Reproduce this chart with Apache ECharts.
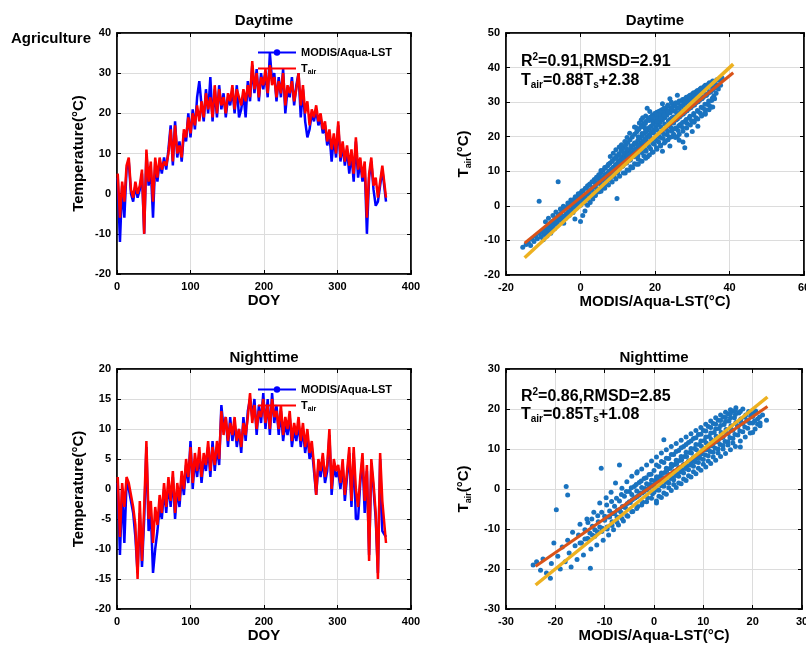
<!DOCTYPE html>
<html><head><meta charset="utf-8">
<script src="https://cdn.jsdelivr.net/npm/echarts@6/dist/echarts.min.js"></script>
<style>html,body{margin:0;padding:0;background:#fff}#c{width:806px;height:649px}</style>
</head><body><div id="c"></div>
<script>
// ---------- DATA ----------
const doy = [1,4,7,10,13,16,19,22,25,28,31,34,37,40,43,46,49,52,55,58,61,64,67,70,73,76,79,82,85,88,91,94,97,100,103,106,109,112,115,118,121,124,127,130,133,136,139,142,145,148,151,154,157,160,163,166,169,172,175,178,181,184,187,190,193,196,199,202,205,208,211,214,217,220,223,226,229,232,235,238,241,244,247,250,253,256,259,262,265,268,271,274,277,280,283,286,289,292,295,298,301,304,307,310,313,316,319,322,325,328,331,334,337,340,343,346,349,352,355,358,361,366];

const dayTair = [5,-6,3,-2,7,9,1,-1,3,0, 2,6,-10,11,3,8,-2,9,4,9, 6,8,7,10,16,8,17,10,12,9, 16,14,19,15,20,17,22,18,23,19, 25,21,24,19,27,20,26,22,24,20, 25,23,27,21,26,24,22,26,23,27, 24,33,26,30,24,29,27,31,25,32, 27,29,24,28,25,30,22,27,25,28, 23,26,30,22,27,20,23,17,21,19, 22,18,20,16,18,13,16,11,15,10, 18,9,13,8,12,7,11,5,14,6, 9,4,8,-6,5,9,2,4,-1,3, 7,-1];
const dayLST = [4,-12,2,-6,6,8,0,-2,2,-1, 1,5,-10,10,2,6,-6,8,3,8, 5,9,6,11,17,7,18,9,13,8, 15,13,20,14,21,16,24,28,22,18, 26,20,29,18,26,19,27,21,25,19, 24,22,26,20,27,19,21,25,19,28, 23,32,25,31,23,30,26,30,24,35, 28,30,23,29,24,31,20,26,24,29, 22,27,30,19,26,18,14,16,20,18, 21,17,19,15,17,12,15,8,14,9, 17,8,12,7,11,5,10,3,13,4, 8,3,7,-10,4,8,1,-3,-2,2, 6,-2];
const nightTair = [2,-8,1,-3,2,1,-1,-3,-6,-15, -2,-12,-3,8,-5,-2,-9,-3,-6,-1, -4,1,-3,2,-2,3,-4,1,-2,3, 0,5,2,7,1,6,3,7,2,6, 4,8,3,7,4,8,5,13,9,12, 8,11,9,12,8,10,7,11,9,12, 16,11,14,10,13,12,15,11,14,10, 15,12,13,10,14,9,12,10,13,8, 11,9,12,8,11,7,10,6,8,4, -1,5,3,6,2,4,10,0,5,3, 4,1,5,-1,3,7,-2,7,0,-3, 2,6,-2,4,-12,5,1,-4,-15,6, -2,-9];
const nightLST = [1,-11,0,-9,1,0,-2,-4,-8,-14, -4,-13,-5,7,-7,-4,-14,-10,-7,-3, -5,0,-4,1,-3,2,-5,0,-3,2, -1,4,1,8,0,5,2,6,1,5, 3,7,2,8,3,7,4,14,10,12, 7,12,8,11,7,10,6,12,8,13, 15,12,15,9,14,11,16,10,15,9, 16,11,14,9,13,8,11,9,12,7, 10,8,11,7,10,6,9,5,7,3, -1,4,2,5,1,3,9,-1,4,2, 3,0,4,-2,2,6,-3,6,-5,-5, 1,5,-4,3,-11,4,0,-5,-14,5, -7,-8];

// scatter: [MODIS/Aqua-LST, Tair]
const dayScatter = [[-15.5,-12],[-14.6,-11.2],[-14,-10.5],[-13.4,-11.5],[-13,-9.6],[-12.5,-10.3],[-12,-8.8],[-11.6,-9.5],[-11.1,1.3],[-11,-8],[-10.6,-9],[-10.2,-7.2],[-9.8,-8.3],[-9.4,-6.5],[-9,-7.6],[-8.7,-5.8],[-8.3,-7],[-8,-4.9],[-7.6,-6.2],[-7.3,-4.3],[-7,-5.4],[-6.6,-3.6],[-6.3,-4.8],[-6,7],[-6,-2.8],[-5.7,-4.1],[-5.4,-2.2],[-5.1,-3.5],[-4.8,-1.4],[-4.5,-5],[-4.4,-2.9],[-4.1,-0.8],[-3.8,-2.3],[-3.5,-0.1],[-3.2,-1.7],[-2.9,0.6],[-2.6,-1.1],[-2.3,1.2],[-2,-0.4],[-1.7,1.9],[-1.5,-3.8],[-1.4,0.3],[-1.1,2.5],[-0.8,0.9],[-0.5,3.2],[-0.2,1.5],[0,-4.5],[0.1,3.8],[0.4,2.1],[0.6,-2.8],[0.7,4.4],[1,2.8],[1.2,-1.5],[1.3,5.1],[1.6,3.4],[1.9,0.2],[1.9,5.8],[2.2,4],[2.5,6.3],[2.6,1],[2.8,4.7],[3.1,7],[3.3,2],[3.4,5.3],[3.7,7.6],[3.9,3.1],[4,5.9],[4.3,8.3],[4.5,4],[4.6,6.6],[4.9,9],[5.1,4.8],[5.2,7.2],[5.5,9.6],[5.8,5.5],[5.8,7.9],[6.1,10.3],[6.4,6.2],[6.4,8.5],[6.7,11],[7,7],[7,9.2],[7.3,11.6],[7.6,7.8],[7.6,9.9],[7.9,12.3],[8.2,8.5],[8.2,10.5],[8.5,13],[8.8,9.3],[8.8,11.2],[9.1,13.7],[9.4,10],[9.4,11.9],[9.7,14.4],[9.8,2.1],[10,10.8],[10,12.6],[10.3,15.1],[10.6,11.5],[10.6,13.3],[10.9,16],[11.2,12.2],[11.2,14],[11.5,16.8],[11.8,12.9],[11.8,14.7],[12.1,17.5],[12.4,13.6],[12.4,15.4],[12.7,18.3],[13,14.3],[13,16.1],[13.3,19.1],[13.6,15],[13.6,16.8],[13.9,19.9],[14.2,15.7],[14.2,17.5],[14.5,20.7],[14.8,16.4],[14.8,18.2],[15,22.6],[15.1,21.4],[15.4,17.1],[15.4,18.9],[15.7,22.2],[16,17.8],[16,19.6],[16.3,23],[16.3,24.8],[16.6,18.5],[16.6,20.3],[16.9,23.7],[17.2,19.2],[17.2,21],[17.5,24.4],[17.5,26],[17.8,19.9],[17.8,21.7],[17.9,28.2],[18.1,25],[18.4,20.6],[18.4,22.4],[18.7,25.6],[19,21.3],[19,23.1],[19.3,26.2],[19.6,22],[19.6,23.8],[19.9,26.7],[20.2,22.7],[20.2,24.5],[20.5,27.1],[20.8,23.4],[20.8,25.2],[21.1,27.4],[21.4,24.1],[21.4,25.9],[21.7,27.7],[22,24.8],[22,26.5],[22.3,28],[22.6,25.5],[22.6,27],[22.9,28.3],[23.2,26.2],[23.5,27.5],[23.5,28.8],[24,17.3],[24,25],[24.1,26.9],[24.4,28.2],[24.7,29.3],[25,25.7],[25,27.5],[25.3,28.9],[25.6,29.8],[25.9,26.4],[26,28.2],[26.2,29.6],[26.5,30.3],[26.8,27.1],[27,28.9],[27.1,30.3],[27.4,30.8],[27.7,27.8],[28,16.8],[28,29.6],[28.1,31],[28.4,31.4],[28.7,28.5],[29,30.3],[29.1,31.7],[29.4,32],[29.7,29.2],[30,31],[30.1,32.4],[30.4,32.7],[30.7,29.9],[31,31.7],[31.1,33.1],[31.4,33.4],[31.7,30.6],[32,32.4],[32.1,33.8],[32.4,34.1],[32.7,31.3],[33,33.1],[33.2,34.5],[33.5,34.9],[33.8,32],[34,33.8],[34.3,35.2],[34.6,35.6],[35,33],[35.1,34.5],[35.5,36],[35.9,34],[36.2,35.2],[36.6,36.5],[37,35],[37.4,36.4],[38,37],
[12,9.5],[13,10.3],[14,11],[15,12],[15.5,13.5],[16.2,13],[17,14.5],[17.6,15.8],[18,14.2],[18.8,16.5],[19.3,15.5],[19.8,17.8],[20.4,16.8],[21,18.5],[21.5,17.5],[22.2,19.5],[22.8,18.6],[23.3,20.6],[23.9,19.8],[24.5,21.6],[25,20.7],[25.6,22.5],[26.2,21.8],[26.8,23.5],[27.4,22.7],[28,24.4],[28.6,23.8],[29.2,25.4],[29.8,24.6],[30.4,26.3],[31,25.5],[31.6,27.3],[32.2,26.8],[32.8,28.3],[33.4,27.9],[34,29.4],[34.6,29],[35.2,30.5],[35.8,31.8],[36.4,32.6],[37,33.8],[37.6,34.9],[20,19.5],[21,20.2],[22,21.3],[23,22.4],[24,23.2],[25,24],[26,25.1],[27,26.2],[28,27.1],[29,28],[30,28.9],[31,29.8],[32,30.6],[33,31.5],[34,32.3],[18,18.3],[19,19.2],[17,17.4],[16,16.3],[15,15.5],[14,14.6],[13,13.2],[12,12.4],[11,11.3],[10,9.5],[9,8.6],[8,7.4],[7,6.3],[6,5.2],[5,4.1],[4,3],[3,2.8],[2,1.7],[1,0.8],[0,0.2],[-1,-0.6],[-2,-1.9],[-3,-2.7],[-4,-3.6],[-5,-4.4],[-6,-5.5],[-7,-6.6],[-8,-7.9],[-9,-8.7],[-10,-9.8],
[14.5,22.8],[15.8,24],[16.7,25.5],[17.3,22.5],[18.6,27.3],[19.4,24.6],[20.3,25.8],[21.2,26.6],[22.5,25.9],[23.8,27],[13.2,21],[12.5,19.8],[11.9,18.6],[11,17.7],[10.4,17],[9.5,16.2],[8.8,15.2],[8,14.3],[30.5,24.5],[33.5,26.5],[35,28.5],[36,31],[26,20],[22,15.8],
[-9.5,-7.5],[-9.4,-4.6],[-8.5,-6.6],[-8.6,-3.6],[-7.5,-5.7],[-7.4,-2.8],[-6.5,-4.8],[-6.6,-1.8],[-5.5,-3.9],[-5.4,-0.9],[-4.5,-3.1],[-4.6,-0.1],[-3.5,-2.2],[-3.4,0.8],[-2.5,-1.3],[-2.6,1.7],[-1.5,-0.4],[-1.4,2.6],[-0.5,0.5],[-0.6,3.5],[0.5,1.3],[0.4,4.3],[1.5,2.2],[1.6,5.2],[2.5,3.1],[2.4,6.1],[3.5,4],[3.6,7],[4.5,4.9],[4.4,7.9],[5.5,4.2],[5.4,6.2],[5.6,8.2],[5.5,10.2],[6.5,5.1],[6.4,7.1],[6.6,9.1],[6.5,11.1],[7.5,6],[7.4,8],[7.6,10],[7.5,12],[8.5,6.9],[8.4,8.9],[8.6,10.9],[8.5,12.9],[9.5,7.8],[9.4,9.8],[9.6,11.8],[9.5,13.8],[10.5,8.6],[10.4,10.6],[10.6,12.6],[10.5,14.6],[11.5,9.5],[11.4,11.5],[11.6,13.5],[11.5,15.5],[12.5,10.4],[12.4,12.4],[12.6,14.4],[12.5,16.4],[13.5,11.3],[13.4,13.3],[13.6,15.3],[13.5,17.3],[14.5,12.2],[14.4,14.2],[14.6,16.2],[14.5,18.2],[15.5,12],[15.4,14.5],[15.6,17.5],[15.5,20],[15.4,22],[16.5,12.9],[16.4,15.4],[16.6,18.4],[16.5,20.9],[16.4,22.9],[17.5,13.8],[17.4,16.3],[17.6,19.3],[17.5,21.8],[17.4,23.8],[18.5,14.7],[18.4,17.2],[18.6,20.2],[18.5,22.7],[18.4,24.7],[19.5,15.6],[19.4,18.1],[19.6,21.1],[19.5,23.6],[19.4,25.6],[20.5,16.4],[20.4,18.9],[20.6,21.9],[20.5,24.4],[20.4,26.4],[21.5,17.3],[21.4,19.8],[21.6,22.8],[21.5,25.3],[21.4,27.3],[22.5,18.2],[22.4,20.7],[22.6,23.7],[22.5,26.2],[22.4,28.2],[23.5,19.1],[23.4,21.6],[23.6,24.6],[23.5,27.1],[23.4,29.1],[24.5,20],[24.4,22.5],[24.6,25.5],[24.5,28],[24.4,30],[25.5,19.8],[25.4,22.3],[25.6,24.8],[25.5,27.3],[26.5,20.7],[26.4,23.2],[26.6,25.7],[26.5,28.2],[27.5,21.6],[27.4,24.1],[27.6,26.6],[27.5,29.1],[28.5,22.5],[28.4,25],[28.6,27.5],[28.5,30],[29.5,23.4],[29.4,25.9],[29.6,28.4],[29.5,30.9],[30.5,24.2],[30.4,26.7],[30.6,29.2],[30.5,31.7],[31.5,25.1],[31.4,27.6],[31.6,30.1],[31.5,32.6],[32.5,26],[32.4,28.5],[32.6,31],[32.5,33.5],[33.5,26.9],[33.4,29.4],[33.6,31.9],[33.5,34.4],[34.5,27.8],[34.4,30.3],[34.6,32.8],[34.5,35.3],[35.5,28.6],[35.4,31.1],[35.6,33.6],[35.5,36.1],
[26.5,19],[28.5,20.5],[30,21.5],[31.5,23],[27.5,18.5],[24,31],[26,32],[22,29.5]];

const nightScatter = [[-24.5,-19],[-23.8,-18.2],[-23,-20.3],[-22.5,-17.5],[-21.8,-21],[-21,-22.3],[-20.8,-18.6],[-20.3,-13.5],[-19.8,-5.2],[-19.5,-16.8],[-19,-20],[-18.6,-14.5],[-18,-18.2],[-17.8,0.6],[-17.5,-12.8],[-17.2,-16],[-16.8,-19.5],[-16.5,-10.8],[-16,-14.2],[-15.6,-17.6],[-15.3,-11.5],[-15,-8.8],[-14.7,-13.5],[-14.3,-16.5],[-14,-10.2],[-13.6,-7.5],[-13.3,-12.5],[-12.9,-19.8],[-12.8,-15],[-12.5,-9.3],[-12.2,-5.8],[-12,-11.8],[-11.6,-14],[-11.3,-8.2],[-11,-3.5],[-10.7,5.2],[-10.6,-10.6],[-10.3,-12.8],[-10,-6.8],[-9.7,-2.2],[-9.5,-9.5],[-9.2,-11.5],[-9,-5.5],[-8.7,-0.8],[-8.5,-8.2],[-8.2,-10.2],[-8,-4.3],[-7.8,1.5],[-7.5,-7],[-7.2,-9],[-7,6],[-7,-3],[-6.7,-5.8],[-6.5,0.2],[-6.2,-8],[-6,-1.8],[-5.8,-4.6],[-5.5,1.8],[-5.3,-6.8],[-5,-0.6],[-4.8,-3.4],[-4.5,3.2],[-4.3,-5.6],[-4,0.6],[-3.8,-2.2],[-3.5,4],[-3.3,-4.4],[-3,1.6],[-2.8,-1],[-2.5,5],[-2.3,-3.3],[-2,2.6],[-1.8,0.1],[-1.5,6],[-1.3,-2.2],[-1,3.6],[-0.8,1.1],[-0.5,7],[-0.3,-1.2],[0,4.6],[0.2,2.1],[0.5,-3.5],[0.5,8],[0.7,-0.2],[1,5.6],[1.2,3.1],[1.5,9],[1.7,0.8],[2,12.3],[2,6.6],[2.2,4.1],[2.5,9.8],[2.7,1.8],[3,7.6],[3.2,5.1],[3.5,10.6],[3.7,2.8],[4,8.6],[4.2,6.1],[4.5,11.4],[4.7,3.8],[5,9.6],[5.2,7.1],[5.5,12.2],[5.7,4.8],[6,10.6],[6.2,8.1],[6.5,13],[6.7,5.8],[7,11.6],[7.2,9.1],[7.5,13.8],[7.7,6.8],[8,12.6],[8.2,10.1],[8.5,14.6],[8.7,7.8],[9,13.6],[9.2,11.1],[9.5,15.4],[9.7,8.8],[10,14.6],[10.2,12.1],[10.5,16.2],[10.7,9.8],[11,15.6],[11.2,13.1],[11.5,17],[11.7,10.8],[12,16.4],[12.2,14.1],[12.5,17.8],[12.7,11.8],[13,17.2],[13.2,15.1],[13.5,18.5],[13.7,12.8],[14,18],[14.2,16.1],[14.5,19.2],[14.7,13.8],[15,18.8],[15.2,17],[15.5,19.8],[15.7,14.8],[16,19.5],[16.3,17.8],[16.6,20.3],[16.9,15.8],[17.2,19],[17.5,10.5],[17.6,16.8],[18,20],[18.4,18],[18.8,17],[19.2,19.4],[19.6,18.2],[20,16.5],[20.4,19],[21,17.5],[21.5,15.8],[22,18.5],[22.8,17.2],
[-5,-3.2],[-4,-2.3],[-3,-1.5],[-2,-0.6],[-1,0.3],[0,1.1],[0,-0.8],[1,2],[1,-0.3],[2,2.8],[2,0.7],[3,3.6],[3,1.5],[4,4.4],[4,2.3],[5,5.3],[5,3.2],[6,6.1],[6,4],[7,7],[7,4.8],[8,7.8],[8,5.7],[9,8.7],[9,6.6],[10,9.6],[10,7.4],[11,10.4],[11,8.3],[12,11.3],[12,9.2],[13,12.1],[13,10],[14,13],[14,10.9],[15,13.8],[15,11.8],[16,14.7],[16,12.6],[17,15.5],[17,13.5],[18,16.4],[18,14.3],[19,17.2],[19,15.2],[20,18.1],[20,14.1],[21,16.2],[-6,-4.5],[-7,-5.2],[-8,-6.1],[-9,-7],[-10,-7.8],[-11,-9.5],[-12,-10.2],[-13,-11],[-14,-12.5],[-15,-13.5],[0.5,3],[1.5,4],[2.5,5.2],[3.5,6.2],[4.5,7.2],[5.5,8.1],[6.5,9.2],[7.5,10.1],[8.5,11.1],[9.5,12],[10.5,13],[11.5,14],[12.5,15],[13.5,15.9],[14.5,16.9],[15.5,17.8],[16.5,18.6],[17.5,19.4],[-0.5,2.2],[-1.5,1.3],[-2.5,0.4],[-3.5,-0.5],[-4.5,-1.4],[5,1.5],[6,2.5],[7,3.3],[8,4.3],[9,5.2],[10,6.2],[11,7],[12,8],[13,9],[14,10],[15,11],[16,11.5],[3,0.3],[4,1.1],[2,-1],[1,-1.8],[-17.5,-1.5],[-3.4,4.3],
[-13.5,-12.4],[-13.4,-8.4],[-12.5,-11.5],[-12.6,-7.5],[-11.5,-10.7],[-11.4,-6.7],[-10.5,-9.8],[-10.6,-5.8],[-9.5,-10],[-9.4,-7],[-9.6,-4],[-8.5,-9.1],[-8.4,-6.1],[-8.6,-3.1],[-7.5,-8.3],[-7.4,-5.3],[-7.6,-2.3],[-6.5,-7.4],[-6.4,-4.4],[-6.6,-1.4],[-5.5,-6.6],[-5.4,-3.6],[-5.6,-0.6],[-4.5,-5.7],[-4.4,-2.7],[-4.6,0.3],[-3.5,-4.9],[-3.4,-1.9],[-3.6,1.1],[-2.5,-4],[-2.4,-1],[-2.6,2],[-1.5,-3.2],[-1.4,-0.2],[-1.6,2.8],[-0.5,-2.3],[-0.4,0.7],[-0.6,3.7],[0.5,-3],[0.4,0],[0.6,3],[0.5,6],[1.5,-2.1],[1.4,0.9],[1.6,3.9],[1.5,6.9],[2.5,-1.3],[2.4,1.7],[2.6,4.7],[2.5,7.7],[3.5,-0.4],[3.4,2.6],[3.6,5.6],[3.5,8.6],[4.5,0.4],[4.4,3.4],[4.6,6.4],[4.5,9.4],[5.5,1.3],[5.4,4.3],[5.6,7.3],[5.5,10.3],[6.5,2.1],[6.4,5.1],[6.6,8.1],[6.5,11.1],[7.5,3],[7.4,6],[7.6,9],[7.5,12],[8.5,3.8],[8.4,6.8],[8.6,9.8],[8.5,12.8],[9.5,4.7],[9.4,7.7],[9.6,10.7],[9.5,13.7],[10.5,5.5],[10.4,8.5],[10.6,11.5],[10.5,14.5],[11.5,6.4],[11.4,9.4],[11.6,12.4],[11.5,15.4],[12.5,7.2],[12.4,10.2],[12.6,13.2],[12.5,16.2],[13.5,8.1],[13.4,11.1],[13.6,14.1],[13.5,17.1],[14.5,8.9],[14.4,11.9],[14.6,14.9],[14.5,17.9],[15.5,9.8],[15.4,12.8],[15.6,15.8],[15.5,18.8],[16.5,10.6],[16.4,13.6],[16.6,16.6],[16.5,19.6],[17.5,12],[17.4,14.5],[17.6,17.5],[18.5,13],[18.4,15.5],[18.6,18.5],[19.5,14],[19.4,16.5],[19.6,19],[20.5,15],[20.4,17],[20.6,19.5],[21.5,16.5],[21.4,18]];

// fitted line (red) and 1:1 line (yellow) end points
const dayFit = [[-15,-10.8],[41,38.5]];
const dayOne = [[-15,-15],[41,41]];
const nightFit = [[-24,-19.3],[23,20.6]];
const nightOne = [[-24,-24],[23,23]];

const panelTitles = ['Daytime','Daytime','Nighttime','Nighttime'];
const dayStats = ['R', '2', '=0.91,RMSD=2.91', '=0.88T', '+2.38'];
const nightStats = ['R', '2', '=0.86,RMSD=2.85', '=0.85T', '+1.08'];

// ---------- CHART ----------
const FF = '"Liberation Sans", Arial, sans-serif';
const chart = echarts.init(document.getElementById('c'));

const grids = [
  {left:117, top:33, width:294, height:241},
  {left:506, top:33, width:298, height:242},
  {left:117, top:369, width:294, height:240},
  {left:506, top:369, width:296, height:240}
].map(g => Object.assign(g, {show:true, borderColor:'#000', borderWidth:1.5, backgroundColor:'transparent', containLabel:false, outerBoundsMode:'none'}));

const lab = {fontSize:11, fontWeight:'bold', fontFamily:FF, color:'#000', showMinLabel:true, showMaxLabel:true};
const nameStyle = {fontSize:15, fontWeight:'bold', fontFamily:FF, color:'#000',
  rich:{t:{fontSize:15, fontWeight:'bold', fontFamily:FF, color:'#000'}, s:{fontSize:9, fontWeight:'bold', fontFamily:FF, color:'#000', padding:[9,0,0,0]}}};
const split = {show:true, lineStyle:{color:'#dcdcdc', width:1}};
const aLine = {show:true, onZero:false, lineStyle:{color:'#000', width:1.5}};
const tick = {show:true, inside:true, length:4, lineStyle:{color:'#000', width:1}};

const axX = [[0,400,100,'DOY'],[-20,60,20,'MODIS/Aqua-LST(°C)'],[0,400,100,'DOY'],[-30,30,10,'MODIS/Aqua-LST(°C)']];
const axY = [[-20,40,10,'Temperature(°C)',31],[-20,50,10,'{t|T}{s|air}{t|(°C)}',33],[-20,20,5,'Temperature(°C)',31],[-30,30,10,'{t|T}{s|air}{t|(°C)}',33]];

const xAxis = [], yAxis = [];
axX.forEach((a,i)=>{
  xAxis.push({type:'value', gridIndex:i, position:'bottom', min:a[0], max:a[1], interval:a[2], name:a[3], nameLocation:'middle', nameGap:19, nameTextStyle:nameStyle,
    axisLabel:Object.assign({margin:7}, lab), axisLine:aLine, axisTick:tick, splitLine:split});
});
axY.forEach((a,i)=>{
  yAxis.push({type:'value', gridIndex:i, position:'left', min:a[0], max:a[1], interval:a[2], name:a[3], nameLocation:'middle', nameGap:a[4], nameTextStyle:nameStyle,
    axisLabel:Object.assign({margin:6}, lab), axisLine:aLine, axisTick:tick, splitLine:split});
});
// mirrored axes for ticks on top and right
axX.forEach((a,i)=>{
  xAxis.push({type:'value', gridIndex:i, position:'top', min:a[0], max:a[1], interval:a[2], axisLabel:{show:false}, axisLine:aLine, axisTick:tick, splitLine:{show:false}});
});
axY.forEach((a,i)=>{
  yAxis.push({type:'value', gridIndex:i, position:'right', min:a[0], max:a[1], interval:a[2], axisLabel:{show:false}, axisLine:aLine, axisTick:tick, splitLine:{show:false}});
});

const pair = (xs, ys) => xs.map((d,i)=>[d, ys[i]]);
const lst = 'MODIS/Aqua-LST', tair = 'Tair';
const SC = '#1a73bf';

const series = [
  {name:lst, type:'line', xAxisIndex:0, yAxisIndex:0, data:pair(doy, dayLST), symbol:'circle', symbolSize:5, showSymbol:false, lineStyle:{color:'#0000ff', width:2.5}, itemStyle:{color:'#0000ff'}},
  {name:tair, type:'line', xAxisIndex:0, yAxisIndex:0, data:pair(doy, dayTair), symbol:'none', lineStyle:{color:'#ff0000', width:2.5}, itemStyle:{color:'#ff0000'}},
  {name:lst, type:'line', xAxisIndex:2, yAxisIndex:2, data:pair(doy, nightLST), symbol:'circle', symbolSize:5, showSymbol:false, lineStyle:{color:'#0000ff', width:2.5}, itemStyle:{color:'#0000ff'}},
  {name:tair, type:'line', xAxisIndex:2, yAxisIndex:2, data:pair(doy, nightTair), symbol:'none', lineStyle:{color:'#ff0000', width:2.5}, itemStyle:{color:'#ff0000'}},
  {type:'scatter', xAxisIndex:1, yAxisIndex:1, data:dayScatter, symbolSize:5, itemStyle:{color:SC, opacity:1}},
  {type:'line', xAxisIndex:1, yAxisIndex:1, data:dayFit, symbol:'none', lineStyle:{color:'#D95319', width:3}},
  {type:'line', xAxisIndex:1, yAxisIndex:1, data:dayOne, symbol:'none', lineStyle:{color:'#EDB120', width:3.5}},
  {type:'scatter', xAxisIndex:3, yAxisIndex:3, data:nightScatter, symbolSize:5, itemStyle:{color:SC, opacity:1}},
  {type:'line', xAxisIndex:3, yAxisIndex:3, data:nightFit, symbol:'none', lineStyle:{color:'#D95319', width:3}},
  {type:'line', xAxisIndex:3, yAxisIndex:3, data:nightOne, symbol:'none', lineStyle:{color:'#EDB120', width:3.5}}
];

const legendBase = {data:[{name:lst}, {name:tair, itemStyle:{opacity:0}}], orient:'vertical', itemWidth:38, itemHeight:8, itemGap:5, selectedMode:false, padding:0,
  textStyle:{fontSize:11, fontWeight:'bold', fontFamily:FF, color:'#000',
    rich:{a:{fontSize:11, fontWeight:'bold', fontFamily:FF, color:'#000'}, s:{fontSize:7, fontWeight:'bold', fontFamily:FF, color:'#000', padding:[7,0,0,0]}}},
  formatter: n => n === tair ? '{a|T}{s|air}' : '{a|' + n + '}'};
const legend = [
  Object.assign({}, legendBase, {left:257, top:47}),
  Object.assign({}, legendBase, {left:257, top:384})
];

const richStat = {
  a:{fontSize:16, fontWeight:'bold', fontFamily:FF, fill:'#000', color:'#000'},
  p:{fontSize:10, fontWeight:'bold', fontFamily:FF, fill:'#000', color:'#000', padding:[0,0,9,0]},
  s:{fontSize:10, fontWeight:'bold', fontFamily:FF, fill:'#000', color:'#000', padding:[9,0,0,0]}
};
function txt(x, y, text, size, align, rich){
  return {type:'text', x:x, y:y, silent:true, z:100, style:{text:text, x:0, y:0, fill:'#000',
    font:'bold '+size+'px '+FF, align:align, textAlign:align, verticalAlign:'middle', textVerticalAlign:'middle', rich:rich}};
}
function stats(x, y1, y2, s){
  return [
    txt(x, y1, '{a|'+s[0]+'}{p|'+s[1]+'}{a|'+s[2]+'}', 16, 'left', richStat),
    txt(x, y2, '{a|T}{s|air}{a|'+s[3]+'}{s|s}{a|'+s[4]+'}', 16, 'left', richStat)
  ];
}
const graphic = [
  txt(11, 39, 'Agriculture', 15, 'left'),
  txt(264, 21, panelTitles[0], 15, 'center'),
  txt(655, 21, panelTitles[1], 15, 'center'),
  txt(264, 358, panelTitles[2], 15, 'center'),
  txt(654, 358, panelTitles[3], 15, 'center')
].concat(stats(521, 62, 81, dayStats), stats(521, 397, 415, nightStats));

chart.setOption({animation:false, backgroundColor:'#fff', grid:grids, xAxis:xAxis, yAxis:yAxis, series:series, legend:legend, graphic:graphic});
</script></body></html>
